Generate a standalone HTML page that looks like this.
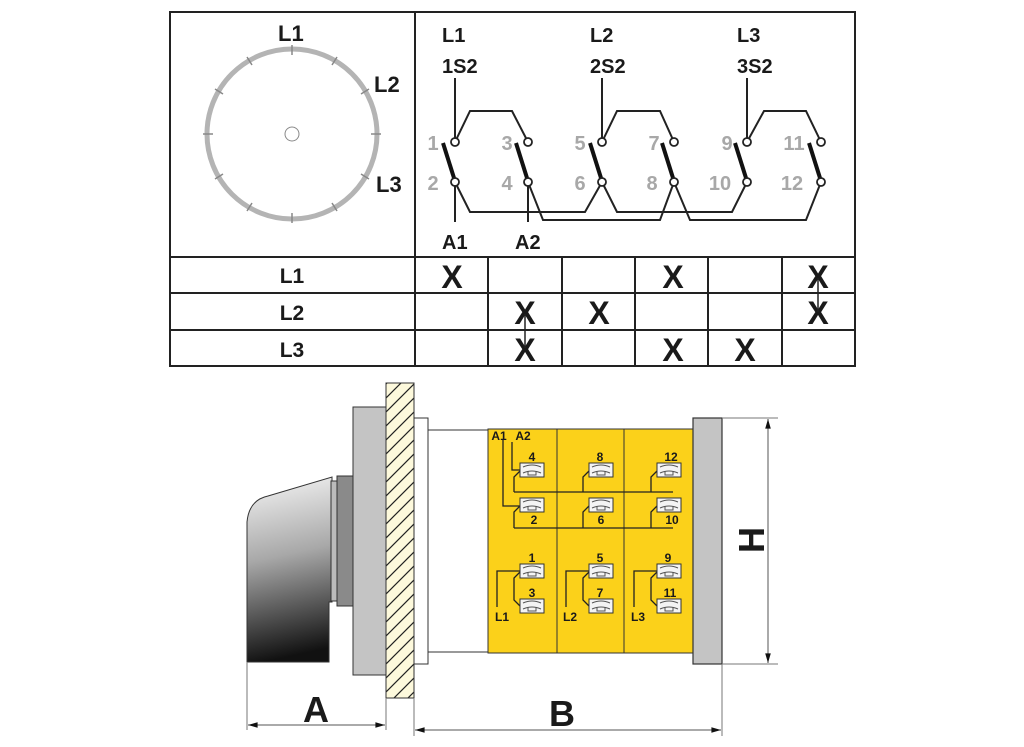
<!DOCTYPE html>
<html><head><meta charset="utf-8"><style>
html,body{margin:0;padding:0;background:#fff;}
svg{display:block;}
text{font-family:"Liberation Sans",Arial,sans-serif;}
.b{font-weight:bold;fill:#1a1a1a;}
.g{font-weight:bold;fill:#a8a8a8;font-size:20px;}
</style></head><body>
<svg width="1024" height="747" viewBox="0 0 1024 747" xmlns="http://www.w3.org/2000/svg">
<defs>
<linearGradient id="knob" x1="0.1" y1="0" x2="0.2" y2="1">
<stop offset="0" stop-color="#f4f4f4"/><stop offset="0.45" stop-color="#a8a8a8"/><stop offset="1" stop-color="#111"/>
</linearGradient>
<pattern id="hatch" width="14" height="14" patternUnits="userSpaceOnUse">
<rect width="14" height="14" fill="#fdf9dc"/><path d="M0,14 L14,0 M-2,2 L2,-2 M12,16 L16,12" stroke="#222" stroke-width="1.2"/>
</pattern>
<marker id="ar" viewBox="0 0 12 10" refX="12" refY="5" markerWidth="12" markerHeight="8" orient="auto-start-reverse" markerUnits="userSpaceOnUse"><path d="M0,1.5 L12,5 L0,8.5 Z" fill="#111"/></marker>
<g id="term"><rect x="0" y="0" width="24" height="14" fill="#f4f4f4" stroke="#333" stroke-width="1"/><path d="M3,4 Q12,0 21,4 M3,10 Q12,6 21,10 M8,8 V12 H16 V8" fill="none" stroke="#555" stroke-width="1"/></g>
</defs>

<g stroke="#222" stroke-width="2" fill="none">
<path d="M170,12 H855 V366 H170 Z"/>
<line x1="415" y1="12" x2="415" y2="366"/>
<line x1="170" y1="257" x2="855" y2="257"/>
<line x1="170" y1="293" x2="855" y2="293"/>
<line x1="170" y1="330" x2="855" y2="330"/>
<line x1="488" y1="257" x2="488" y2="366"/>
<line x1="562" y1="257" x2="562" y2="366"/>
<line x1="635" y1="257" x2="635" y2="366"/>
<line x1="708" y1="257" x2="708" y2="366"/>
<line x1="782" y1="257" x2="782" y2="366"/>
</g>
<g class="b" font-size="21" text-anchor="middle">
<text x="292" y="283">L1</text><text x="292" y="320">L2</text><text x="292" y="357">L3</text>
</g>
<g font-size="32" font-weight="bold" text-anchor="middle" fill="#1a1a1a">
<text x="452" y="288">X</text><text x="673" y="288">X</text><text x="818" y="288">X</text>
<text x="525" y="324">X</text><text x="599" y="324">X</text><text x="818" y="324">X</text>
<text x="525" y="361">X</text><text x="673" y="361">X</text><text x="745" y="361">X</text>
</g>
<line x1="818" y1="278" x2="818" y2="312" stroke="#222" stroke-width="1.5"/>
<line x1="525" y1="314" x2="525" y2="348" stroke="#222" stroke-width="1.5"/>

<circle cx="292" cy="134" r="85" fill="none" stroke="#b4b4b4" stroke-width="5"/>
<g stroke="#888" stroke-width="1.5">
<line x1="292" y1="45" x2="292" y2="55"/><line x1="292" y1="213" x2="292" y2="223"/>
<line x1="203" y1="134" x2="213" y2="134"/><line x1="371" y1="134" x2="381" y2="134"/>
<line x1="247" y1="57" x2="252" y2="65"/><line x1="337" y1="57" x2="332" y2="65"/>
<line x1="247" y1="211" x2="252" y2="203"/><line x1="337" y1="211" x2="332" y2="203"/>
<line x1="215" y1="89" x2="223" y2="94"/><line x1="369" y1="89" x2="361" y2="94"/>
<line x1="215" y1="179" x2="223" y2="174"/><line x1="369" y1="179" x2="361" y2="174"/>
</g>
<circle cx="292" cy="134" r="7" fill="#fff" stroke="#888" stroke-width="1"/>
<g class="b" font-size="22">
<text x="278" y="41">L1</text><text x="374" y="92">L2</text><text x="376" y="192">L3</text>
</g>

<g stroke="#222" stroke-width="2" fill="none">
<line x1="455" y1="78" x2="455" y2="138"/>
<line x1="602" y1="78" x2="602" y2="138"/>
<line x1="747" y1="78" x2="747" y2="138"/>
<line x1="455" y1="186" x2="455" y2="222"/>
<line x1="528" y1="186" x2="528" y2="222"/>
<path d="M455,142 L470,111 H512 L528,142"/>
<path d="M602,142 L617,111 H660 L674,142"/>
<path d="M747,142 L764,111 H806 L821,142"/>
<path d="M455,182 L470,212 H585 L602,182"/>
<path d="M602,182 L617,212 H732 L747,182"/>
<path d="M528,182 L543,220 H660 L674,182"/>
<path d="M674,182 L690,220 H806 L821,182"/>
</g>
<g stroke="#111" stroke-width="4">
<line x1="443" y1="143" x2="454" y2="178"/><line x1="516" y1="143" x2="527" y2="178"/>
<line x1="590" y1="143" x2="601" y2="178"/><line x1="662" y1="143" x2="673" y2="178"/>
<line x1="735" y1="143" x2="746" y2="178"/><line x1="809" y1="143" x2="820" y2="178"/>
</g>
<g fill="#fff" stroke="#222" stroke-width="1.8">
<circle cx="455" cy="142" r="4"/><circle cx="528" cy="142" r="4"/><circle cx="602" cy="142" r="4"/><circle cx="674" cy="142" r="4"/><circle cx="747" cy="142" r="4"/><circle cx="821" cy="142" r="4"/>
<circle cx="455" cy="182" r="4"/><circle cx="528" cy="182" r="4"/><circle cx="602" cy="182" r="4"/><circle cx="674" cy="182" r="4"/><circle cx="747" cy="182" r="4"/><circle cx="821" cy="182" r="4"/>
</g>
<g class="g" text-anchor="middle">
<text x="433" y="150">1</text><text x="507" y="150">3</text><text x="580" y="150">5</text><text x="654" y="150">7</text><text x="727" y="150">9</text><text x="794" y="150">11</text>
<text x="433" y="190">2</text><text x="507" y="190">4</text><text x="580" y="190">6</text><text x="652" y="190">8</text><text x="720" y="190">10</text><text x="792" y="190">12</text>
</g>
<g class="b" font-size="20">
<text x="442" y="42">L1</text><text x="442" y="73">1S2</text>
<text x="590" y="42">L2</text><text x="590" y="73">2S2</text>
<text x="737" y="42">L3</text><text x="737" y="73">3S2</text>
<text x="442" y="249">A1</text><text x="515" y="249">A2</text>
</g>

<path d="M247,662 V522 Q249,500 268,496 L332,477 V602 H329 V662 Z" fill="url(#knob)" stroke="#333" stroke-width="1"/>
<rect x="331" y="481" width="6" height="120" fill="#bbb" stroke="#333" stroke-width="1"/>
<rect x="337" y="476" width="16" height="130" fill="#8a8a8a" stroke="#333" stroke-width="1"/>
<rect x="353" y="407" width="33" height="268" fill="#c4c4c4" stroke="#333" stroke-width="1"/>
<rect x="386" y="383" width="28" height="315" fill="url(#hatch)" stroke="#333" stroke-width="1"/>
<rect x="414" y="418" width="14" height="246" fill="#fff" stroke="#333" stroke-width="1"/>
<rect x="428" y="430" width="62" height="222" fill="#fff" stroke="#333" stroke-width="1"/>
<rect x="488" y="429" width="205" height="224" fill="#fbd11a" stroke="#333" stroke-width="1"/>
<line x1="557" y1="429" x2="557" y2="653" stroke="#333" stroke-width="1"/>
<line x1="624" y1="429" x2="624" y2="653" stroke="#333" stroke-width="1"/>
<rect x="693" y="418" width="29" height="246" fill="#c4c4c4" stroke="#333" stroke-width="1.2"/>

<g stroke="#222" stroke-width="1.3" fill="none">
<path d="M503,440 V506 H520"/>
<path d="M512,442 V470 H520"/>
<path d="M520,471 L514,477 V492 M589,471 L583,477 V492 M657,471 L651,477 V492 M514,492 H673"/>
<path d="M520,506 L514,512 V528 M589,506 L583,512 V528 M657,506 L651,512 V528 M514,528 H673"/>
<path d="M497,607 V571 H520 M520,572 L514,578 V600 L520,606"/>
<path d="M566,607 V571 H589 M589,572 L583,578 V600 L589,606"/>
<path d="M634,607 V571 H657 M657,572 L651,578 V600 L657,606"/>
</g>
<use href="#term" x="520" y="463"/><use href="#term" x="589" y="463"/><use href="#term" x="657" y="463"/>
<use href="#term" x="520" y="498"/><use href="#term" x="589" y="498"/><use href="#term" x="657" y="498"/>
<use href="#term" x="520" y="564"/><use href="#term" x="589" y="564"/><use href="#term" x="657" y="564"/>
<use href="#term" x="520" y="599"/><use href="#term" x="589" y="599"/><use href="#term" x="657" y="599"/>
<g class="b" font-size="12" text-anchor="middle">
<text x="499" y="440">A1</text><text x="523" y="440">A2</text>
<text x="532" y="461">4</text><text x="600" y="461">8</text><text x="671" y="461">12</text>
<text x="534" y="524">2</text><text x="601" y="524">6</text><text x="672" y="524">10</text>
<text x="532" y="562">1</text><text x="600" y="562">5</text><text x="668" y="562">9</text>
<text x="532" y="597">3</text><text x="600" y="597">7</text><text x="670" y="597">11</text>
<text x="502" y="621">L1</text><text x="570" y="621">L2</text><text x="638" y="621">L3</text>
</g>

<g stroke="#777" stroke-width="1">
<line x1="722" y1="418" x2="778" y2="418"/><line x1="722" y1="664" x2="778" y2="664"/>
<line x1="247" y1="662" x2="247" y2="730"/><line x1="386" y1="698" x2="386" y2="730"/>
<line x1="414" y1="698" x2="414" y2="736"/><line x1="722" y1="664" x2="722" y2="736"/>
</g>
<line x1="768" y1="419" x2="768" y2="663" stroke="#555" stroke-width="1" marker-start="url(#ar)" marker-end="url(#ar)"/>
<line x1="248" y1="725" x2="385" y2="725" stroke="#555" stroke-width="1" marker-start="url(#ar)" marker-end="url(#ar)"/>
<line x1="415" y1="730" x2="721" y2="730" stroke="#555" stroke-width="1" marker-start="url(#ar)" marker-end="url(#ar)"/>
<text class="b" x="316" y="722" font-size="36" text-anchor="middle">A</text>
<text class="b" x="562" y="726" font-size="36" text-anchor="middle">B</text>
<text class="b" x="0" y="0" font-size="36" text-anchor="middle" transform="translate(764,540) rotate(-90)">H</text>
</svg>
</body></html>
